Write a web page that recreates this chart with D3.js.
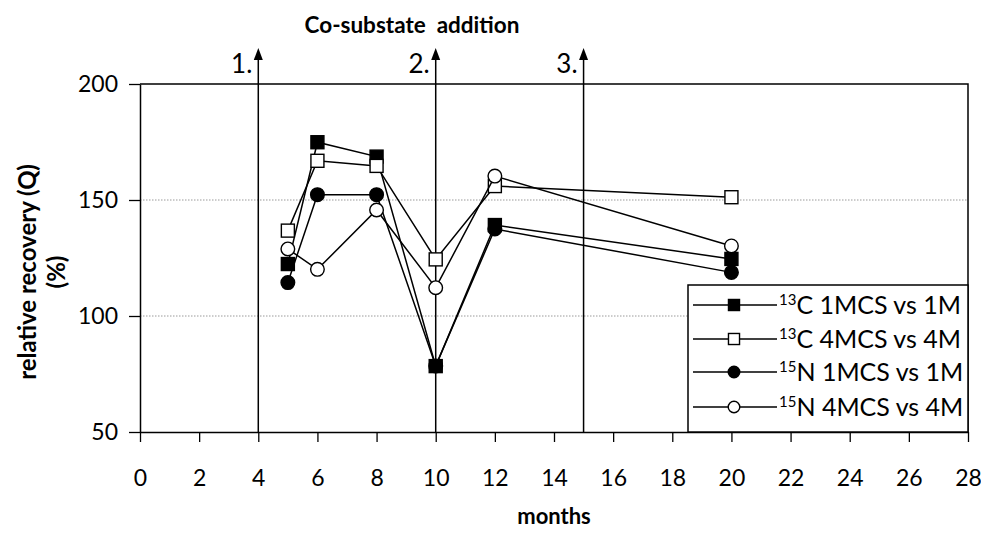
<!DOCTYPE html>
<html>
<head>
<meta charset="utf-8">
<script src="https://cdn.jsdelivr.net/npm/d3@7"></script>
<style>
  html, body { margin: 0; padding: 0; background: #fff; }
  svg { display: block; font-family: Lato, "Open Sans", sans-serif; }
</style>
</head>
<body>
<svg id="chart" width="981" height="533"></svg>
<script>
// Sampling times (months) and relative recovery Q (%) per isotope/treatment
const months = [5, 6, 8, 10, 12, 20];
const c13_1MCS = [122.4, 174.9, 168.7, 78.4, 139.2, 124.6];
const c13_4MCS = [136.8, 166.9, 164.7, 124.4, 156.0, 151.2];
const n15_1MCS = [114.4, 152.3, 152.3, 78.5, 137.5, 118.8];
const n15_4MCS = [128.9, 120.1, 145.7, 112.2, 160.3, 130.2];

const seriesNames = ["13C 1MCS vs 1M", "13C 4MCS vs 4M", "15N 1MCS vs 1M", "15N 4MCS vs 4M"];
const xTicks = [0, 2, 4, 6, 8, 10, 12, 14, 16, 18, 20, 22, 24, 26, 28];
const yTicks = [50, 100, 150, 200];
const gridValues = [100, 150];
// Co-substrate additions (month, label)
const additionMonths = [4, 10, 15];
const additionLabels = ["1.", "2.", "3."];

const series = [
  { name: seriesNames[0], values: c13_1MCS, shape: "square", fill: "#000" },
  { name: seriesNames[1], values: c13_4MCS, shape: "square", fill: "#fff" },
  { name: seriesNames[2], values: n15_1MCS, shape: "circle", fill: "#000" },
  { name: seriesNames[3], values: n15_4MCS, shape: "circle", fill: "#fff" }
];
// paint order: filled circles underneath, open circles on top
const drawOrder = [2, 0, 1, 3];

const svg = d3.select("#chart");
const pLeft = 140, pRight = 968, pTop = 84, pBottom = 432;

const x = d3.scaleLinear().domain([0, 28]).range([pLeft, pRight]);
const y = d3.scaleLinear().domain([50, 200]).range([pBottom, pTop]);

// dotted gridlines
svg.append("g").selectAll("line").data(gridValues).join("line")
  .attr("x1", pLeft).attr("x2", pRight)
  .attr("y1", d => y(d)).attr("y2", d => y(d))
  .attr("stroke", "#9a9a9a").attr("stroke-width", 1)
  .attr("stroke-dasharray", "1.5,1.5");

// plot frame (top and right)
svg.append("path")
  .attr("d", `M${pLeft},${pTop}H${pRight}V${pBottom}`)
  .attr("fill", "none").attr("stroke", "#000").attr("stroke-width", 1.5);

// axes
const xAxis = svg.append("g").attr("transform", `translate(0,${pBottom})`)
  .call(d3.axisBottom(x).tickValues(xTicks).tickSize(10).tickSizeOuter(0).tickPadding(28));
const yAxis = svg.append("g").attr("transform", `translate(${pLeft},0)`)
  .call(d3.axisLeft(y).tickValues(yTicks).tickSize(11).tickSizeOuter(0).tickPadding(11));
[xAxis, yAxis].forEach(g => {
  g.select(".domain").attr("stroke", "#000").attr("stroke-width", 1.5);
  g.selectAll(".tick line").attr("stroke", "#000").attr("stroke-width", 1.3);
  g.selectAll(".tick text").attr("fill", "#000")
    .style("font-family", "Lato, sans-serif").style("font-size", "23px");
});

// co-substrate addition markers: vertical arrows above the plot
const arrowTip = 48;
const arrows = svg.append("g");
additionMonths.forEach((m, i) => {
  const ax = x(m);
  arrows.append("line")
    .attr("x1", ax).attr("x2", ax).attr("y1", pBottom).attr("y2", arrowTip + 8)
    .attr("stroke", "#000").attr("stroke-width", 1.5);
  arrows.append("path")
    .attr("d", `M${ax},${arrowTip}L${ax - 4.5},${arrowTip + 12}L${ax + 4.5},${arrowTip + 12}Z`)
    .attr("fill", "#000");
  arrows.append("text")
    .attr("x", ax - 6).attr("y", 73)
    .attr("text-anchor", "end")
    .style("font-size", "26px")
    .text(additionLabels[i]);
});

svg.append("text")
  .attr("x", 412).attr("y", 33)
  .attr("text-anchor", "middle")
  .style("font-size", "22.5px").style("font-weight", "bold")
  .style("white-space", "pre")
  .text("Co-substate  addition");

// series lines and markers
const line = d3.line().x((d, i) => x(months[i])).y(d => y(d));
const sq = 13, rad = 6.8;

function drawMarker(g, shape, fill, cx, cy, sizeScale = 1) {
  if (shape === "square") {
    const s = sq * sizeScale;
    g.append("rect")
      .attr("x", cx - s / 2).attr("y", cy - s / 2)
      .attr("width", s).attr("height", s)
      .attr("fill", fill).attr("stroke", "#000").attr("stroke-width", 1.4);
  } else {
    g.append("circle")
      .attr("cx", cx).attr("cy", cy).attr("r", rad * sizeScale)
      .attr("fill", fill).attr("stroke", "#000").attr("stroke-width", 1.4);
  }
}

const plot = svg.append("g");
drawOrder.forEach(k => {
  const s = series[k];
  const g = plot.append("g");
  g.append("path").datum(s.values)
    .attr("d", line)
    .attr("fill", "none").attr("stroke", "#000").attr("stroke-width", 1.5);
  s.values.forEach((v, i) => drawMarker(g, s.shape, s.fill, x(months[i]), y(v)));
});

// legend
const lg = svg.append("g");
const lgLeft = 688, lgTop = 285;
lg.append("rect")
  .attr("x", lgLeft).attr("y", lgTop)
  .attr("width", pRight - lgLeft).attr("height", pBottom - lgTop)
  .attr("fill", "#fff").attr("stroke", "#000").attr("stroke-width", 1.5);
const rowY = [305, 339, 372, 407];
series.forEach((s, i) => {
  const ry = rowY[i];
  lg.append("line")
    .attr("x1", 693).attr("x2", 777).attr("y1", ry).attr("y2", ry)
    .attr("stroke", "#000").attr("stroke-width", 1.5);
  drawMarker(lg, s.shape, s.fill, 734, ry, 0.85);
  const parts = s.name.split(/^(\d+)/).filter(Boolean);
  const t = lg.append("text")
    .attr("x", 779).attr("y", ry + 9)
    .style("font-size", "25px");
  t.append("tspan").attr("dy", -9).style("font-size", "15px").text(parts[0]);
  t.append("tspan").attr("dy", 9).text(parts[1]);
});

// axis titles
svg.append("text")
  .attr("x", (pLeft + pRight) / 2).attr("y", 524)
  .attr("text-anchor", "middle")
  .style("font-size", "22px").style("font-weight", "bold")
  .text("months");

const yt = svg.append("text")
  .attr("transform", "translate(0,272) rotate(-90)")
  .attr("text-anchor", "middle")
  .style("font-size", "24px").style("font-weight", "bold");
yt.append("tspan").attr("x", 0).attr("y", 36).text("relative recovery (Q)");
yt.append("tspan").attr("x", 0).attr("y", 65).text("(%)");
</script>
</body>
</html>
